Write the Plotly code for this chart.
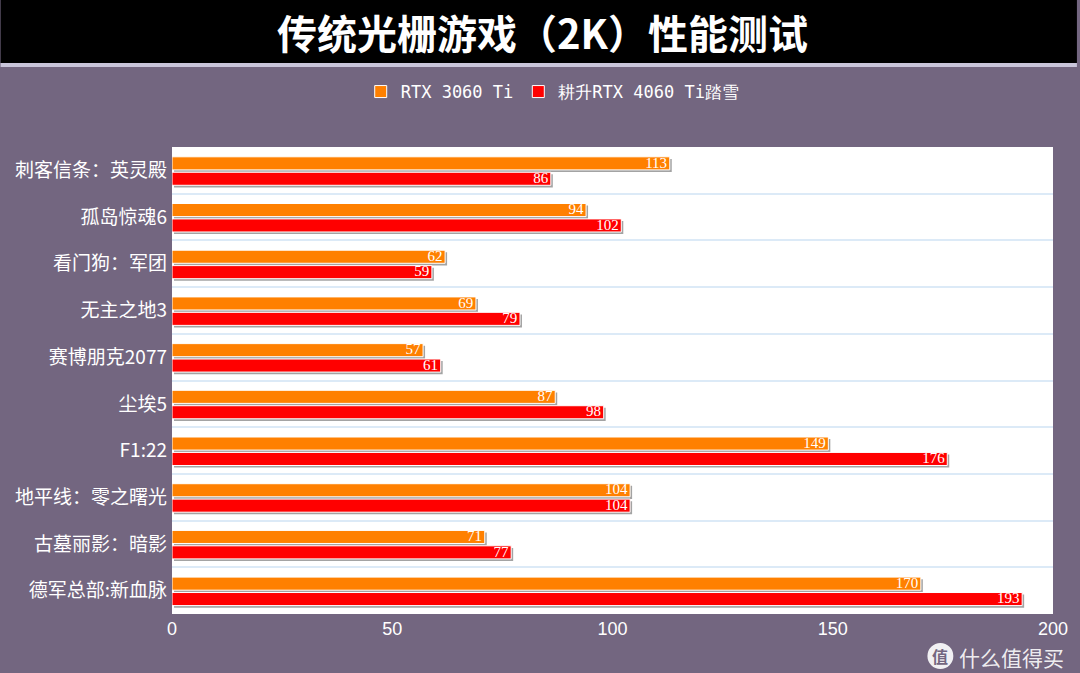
import numpy as np
import plotly.graph_objects as go

games = ['刺客信条：英灵殿', '孤岛惊魂6', '看门狗：军团', '无主之地3', '赛博朋克2077',
         '尘埃5', 'F1:22', '地平线：零之曙光', '古墓丽影：暗影', '德军总部:新血脉']
rtx3060ti = [113, 94, 62, 69, 57, 87, 149, 104, 71, 170]
rtx4060ti = [86, 102, 59, 79, 61, 98, 176, 104, 77, 193]
x_ticks = [0, 50, 100, 150, 200]

W, H = 1080, 673
L, R, T, B = 172, 24, 147, 59
BG = '#736680'

pos = np.arange(len(games))
bar_w = 0.28
off_a, off_b = -0.29, 0.04
sh_x, sh_y = 0.45, 0.045


def py(y_px):
    # pixel row -> paper y
    return (H - B - y_px) / (H - T - B)


def px(x_px):
    return (x_px - L) / (W - L - R)


fig = go.Figure()

# drop shadows
for vals, off in [(rtx3060ti, off_a), (rtx4060ti, off_b)]:
    fig.add_trace(go.Bar(
        y=pos, x=vals, base=sh_x, orientation='h', width=bar_w, offset=off + sh_y,
        marker=dict(color='#A3A3A3', line=dict(width=0)), showlegend=False, hoverinfo='skip'
    ))

fig.add_trace(go.Bar(
    y=pos, x=rtx3060ti, orientation='h', width=bar_w, offset=off_a, name='RTX 3060 Ti',
    marker=dict(color='#FF8000', line=dict(color='white', width=1))
))
fig.add_trace(go.Bar(
    y=pos, x=rtx4060ti, orientation='h', width=bar_w, offset=off_b, name='耕升RTX 4060 Ti踏雪',
    marker=dict(color='#FF0000', line=dict(color='white', width=1))
))

# value labels at bar ends
for vals, off in [(rtx3060ti, off_a), (rtx4060ti, off_b)]:
    fig.add_trace(go.Scatter(
        y=pos + off + bar_w / 2 + 0.01, x=np.array(vals) - 0.6, mode='text',
        text=[str(v) for v in vals], textposition='middle left',
        textfont=dict(family='Liberation Serif', size=15, color='white'),
        showlegend=False, hoverinfo='skip', cliponaxis=False
    ))

fig.update_layout(
    width=W, height=H,
    paper_bgcolor=BG, plot_bgcolor='white',
    margin=dict(l=L, r=R, t=T, b=B),
    barmode='overlay',
    showlegend=True,
    legend=dict(orientation='h', x=px(554), xanchor='center', y=py(92), yanchor='middle',
                font=dict(family='DejaVu Sans Mono', size=17, color='white'),
                itemwidth=30, bgcolor='rgba(0,0,0,0)'),
    xaxis=dict(range=[0, 200], tickvals=x_ticks, showgrid=False, zeroline=False,
               tickfont=dict(family='Liberation Sans', size=18, color='white'),
               ticks='', ticklabelstandoff=2, fixedrange=True),
    yaxis=dict(range=[len(games) - 0.5, -0.5], tickvals=pos, ticktext=games,
               showgrid=False, zeroline=False, ticks='', ticklabelstandoff=4,
               tickfont=dict(family='Noto Sans CJK SC', size=19, color='white'),
               minor=dict(tickvals=list(np.arange(len(games) + 1) - 0.5), showgrid=True,
                          gridcolor='#DCEAF7', gridwidth=2, ticks='')),
    shapes=[
        dict(type='rect', xref='paper', yref='paper', x0=px(0), x1=px(W), y0=py(63), y1=py(0),
             fillcolor='black', line=dict(width=0), layer='below'),
        dict(type='rect', xref='paper', yref='paper', x0=px(0), x1=px(W), y0=py(67), y1=py(63),
             fillcolor='#C9C5DA', line=dict(width=0), layer='below'),
        dict(type='circle', xref='paper', yref='paper', x0=px(930), x1=px(956), y0=py(669), y1=py(643),
             fillcolor='rgba(255,255,255,0.9)', line=dict(width=0)),
    ],
    annotations=[
        dict(text='<b>传统光栅游戏（2K）性能测试</b>', xref='paper', yref='paper', x=px(544), y=py(32),
             xanchor='center', yanchor='middle', showarrow=False,
             font=dict(family='Noto Sans CJK SC', size=40, color='white')),
        dict(text='<b>值</b>', xref='paper', yref='paper', x=px(943), y=py(656),
             xanchor='center', yanchor='middle', showarrow=False,
             font=dict(family='Noto Sans CJK SC', size=16, color=BG)),
        dict(text='什么值得买', xref='paper', yref='paper', x=px(1014), y=py(657),
             xanchor='center', yanchor='middle', showarrow=False,
             font=dict(family='Noto Sans CJK SC', size=21, color='rgba(255,255,255,0.9)')),
    ],
)

fig.write_html('out.html', config={'displayModeBar': False},
               post_script="document.body.style.margin='0';")
